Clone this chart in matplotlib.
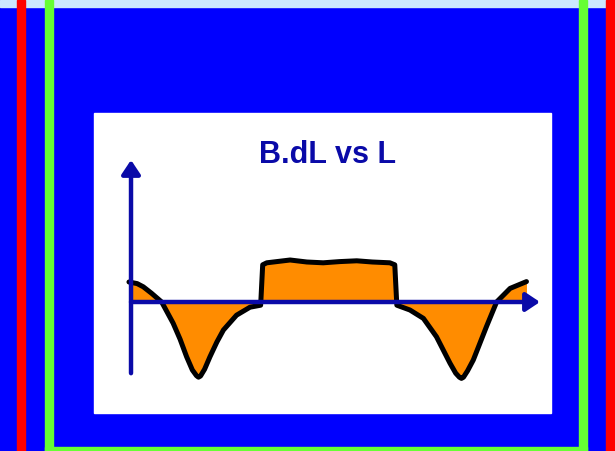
import matplotlib.pyplot as plt
from matplotlib.patches import Rectangle

# B.dL values (B in units of the plateau height)
L = [-0.5, 1.5, 3.0, 5.0, 7.5, 10.3, 12.0, 13.6, 15.0, 16.0, 16.5, 17.0, 18.0,
     19.3, 21.0, 22.6, 25.8, 29.1, 31.7, 32.2, 33.2, 38.9, 43.0, 47.0, 51.0,
     55.2, 59.0, 63.3, 64.5, 65.0, 68.2, 71.5, 74.7, 78.0, 79.4, 80.3, 80.8,
     81.3, 82.3, 83.7, 86.9, 89.4, 92.7, 96.7]
B = [0.50, 0.46, 0.38, 0.22, 0.0, -0.53, -0.93, -1.37, -1.70, -1.84, -1.88,
     -1.85, -1.68, -1.37, -1.0, -0.70, -0.33, -0.13, -0.08, 0.93, 0.98, 1.05,
     1.0, 0.98, 1.01, 1.03, 1.0, 0.98, 0.93, -0.08, -0.20, -0.41, -0.87, -1.53,
     -1.78, -1.88, -1.91, -1.88, -1.72, -1.45, -0.62, 0.0, 0.34, 0.51]
title = "B.dL vs L"

W, H = 615, 451
fig = plt.figure(figsize=(W / 100, H / 100), dpi=100)

# backdrop (slide frame)
bg = fig.add_axes([0, 0, 1, 1])
bg.set_xlim(0, W)
bg.set_ylim(H, 0)
bg.axis("off")
bg.add_patch(Rectangle((0, 0), W, H, color="#0000ff"))
bg.add_patch(Rectangle((0, 0), 606, 7, color="#cce8ff"))
bg.add_patch(Rectangle((17, 0), 7.5, H, color="#ff0000"))
bg.add_patch(Rectangle((606, 0), 9, H, color="#ff0000"))
bg.add_patch(Rectangle((45, 0), 8, H, color="#66ff33"))
bg.add_patch(Rectangle((579, 0), 8, H, color="#66ff33"))
bg.add_patch(Rectangle((45, 447), 542, 4, color="#66ff33"))
bg.add_patch(Rectangle((94, 113), 457, 300, color="white"))

# the sketch itself
ax = fig.add_axes([94 / W, (H - 413) / H, 457 / W, 300 / H])
ax.patch.set_alpha(0)
ax.axis("off")
ax.set_xlim(-9.05, 102.7)
ax.set_ylim(-2.775, 4.725)

ax.fill_between(L, B, 0, color="#ff8c00", lw=0)
ax.plot(L, B, color="black", lw=3.6, solid_capstyle="round", solid_joinstyle="round")

navy = "#0a0aa8"
arrow = dict(arrowstyle="-|>,head_length=0.3,head_width=0.2", lw=3.2, color=navy,
             mutation_scale=28, shrinkA=0, shrinkB=0)
ax.annotate("", xy=(100, 0), xytext=(0, 0), arrowprops=arrow)
ax.annotate("", xy=(0, 3.55), xytext=(0, -1.78), arrowprops=arrow)

fig.text(327.5 / W, 1 - 163 / H, title, color=navy, fontsize=22, fontweight="bold",
         family="Liberation Sans", ha="center", va="baseline")

fig.savefig("out.png", dpi=100)
